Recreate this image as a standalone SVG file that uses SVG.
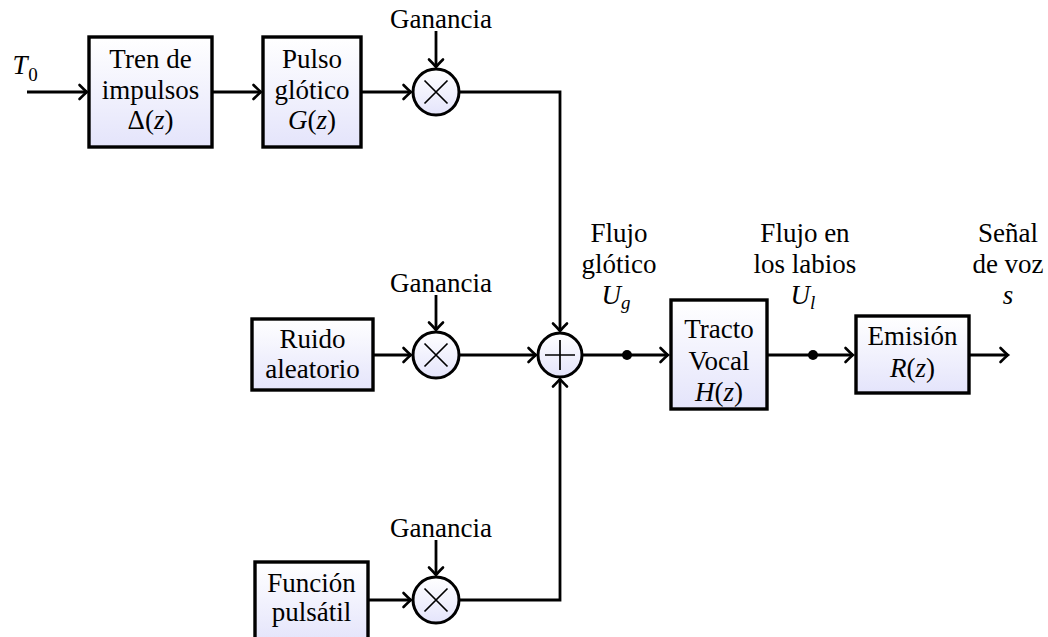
<svg xmlns="http://www.w3.org/2000/svg" width="1048" height="637" viewBox="0 0 1048 637">
  <defs>
    <linearGradient id="fillGrad" x1="0" y1="0" x2="0" y2="1">
      <stop offset="0" stop-color="#ffffff"/>
      <stop offset="1" stop-color="#e4e4fb"/>
    </linearGradient>
    <marker id="tip" markerUnits="userSpaceOnUse" markerWidth="16" markerHeight="18" viewBox="-9 -9 11 18" refX="0" refY="0" orient="auto">
      <path d="M-7.5,-7 Q-2,-1.5 0,0 Q-2,1.5 -7.5,7" fill="none" stroke="#000" stroke-width="2.6" stroke-linecap="round"/>
    </marker>
    <style>
      .blk { fill: url(#fillGrad); stroke: #000; stroke-width: 3.4; }
      .op { fill: url(#fillGrad); stroke: #000; stroke-width: 3; }
      .sym { stroke: #000; stroke-width: 1.7; fill: none; }
      .wire { fill: none; stroke: #000; stroke-width: 2.8; }
      .arr { marker-end: url(#tip); }
      text { font-family: "Liberation Serif", "Times New Roman", serif; font-size: 27px; fill: #000; text-anchor: middle; }
      .m { font-style: italic; }
      .sub { font-size: 19px; }
    </style>
  </defs>

  <!-- connectors -->
  <g id="connectors">
    <line class="wire arr" x1="27" y1="92" x2="87" y2="92"/>
    <line class="wire arr" x1="212" y1="92" x2="261" y2="92"/>
    <line class="wire arr" x1="361" y1="92" x2="411" y2="92"/>
    <line class="wire arr" x1="436" y1="31" x2="436" y2="67"/>
    <polyline class="wire arr" points="459,92 560,92 560,331"/>

    <line class="wire arr" x1="373" y1="355" x2="411" y2="355"/>
    <line class="wire arr" x1="436" y1="295" x2="436" y2="330"/>
    <line class="wire arr" x1="459" y1="355" x2="536" y2="355"/>
    <polyline class="wire arr" points="459,600 560,600 560,379"/>
    <line class="wire arr" x1="368" y1="600" x2="411" y2="600"/>
    <line class="wire arr" x1="436" y1="540" x2="436" y2="575"/>

    <line class="wire arr" x1="582" y1="355" x2="668" y2="355"/>
    <line class="wire arr" x1="767" y1="355" x2="853" y2="355"/>
    <line class="wire arr" x1="969" y1="355" x2="1008" y2="355"/>
    <circle cx="627" cy="355" r="5" fill="#000"/>
    <circle cx="813" cy="355" r="5" fill="#000"/>
  </g>

  <!-- input label -->
  <g id="input-T0">
    <text x="20" y="74" class="m">T</text>
    <text x="33" y="81" class="sub">0</text>
  </g>

  <!-- voiced branch -->
  <g id="tren-impulsos">
    <rect class="blk" x="89" y="37" width="123" height="110"/>
    <text x="150.5" y="68">Tren de</text>
    <text x="150.5" y="99">impulsos</text>
    <text x="150.5" y="129">Δ(<tspan class="m">z</tspan>)</text>
  </g>
  <g id="pulso-glotico">
    <rect class="blk" x="263" y="37" width="98" height="110"/>
    <text x="312" y="68">Pulso</text>
    <text x="312" y="99">glótico</text>
    <text x="312" y="129"><tspan class="m">G</tspan>(<tspan class="m">z</tspan>)</text>
  </g>
  <g id="mult-top">
    <circle class="op" cx="436" cy="92" r="23"/>
    <path class="sym" d="M424.5,80.5 L447.5,103.5 M447.5,80.5 L424.5,103.5"/>
    <text x="441" y="28">Ganancia</text>
  </g>

  <!-- noise branch -->
  <g id="ruido">
    <rect class="blk" x="252" y="319" width="121" height="71"/>
    <text x="312.5" y="348">Ruido</text>
    <text x="312.5" y="378">aleatorio</text>
  </g>
  <g id="mult-mid">
    <circle class="op" cx="436" cy="355" r="23"/>
    <path class="sym" d="M424.5,343.5 L447.5,366.5 M447.5,343.5 L424.5,366.5"/>
    <text x="441" y="292">Ganancia</text>
  </g>

  <!-- pulsatile branch -->
  <g id="funcion-pulsatil">
    <rect class="blk" x="255" y="562" width="113" height="80"/>
    <text x="311.5" y="592">Función</text>
    <text x="311.5" y="621">pulsátil</text>
  </g>
  <g id="mult-bot">
    <circle class="op" cx="436" cy="600" r="23"/>
    <path class="sym" d="M424.5,588.5 L447.5,611.5 M447.5,588.5 L424.5,611.5"/>
    <text x="441" y="537">Ganancia</text>
  </g>

  <!-- summation -->
  <g id="suma">
    <circle class="op" cx="560" cy="355" r="22"/>
    <path class="sym" d="M545,355 L575,355 M560,340 L560,370"/>
  </g>

  <!-- vocal tract and radiation -->
  <g id="label-ug">
    <text x="619" y="242">Flujo</text>
    <text x="619" y="273">glótico</text>
    <text x="616" y="304"><tspan class="m">U</tspan><tspan class="m sub" dy="5">g</tspan></text>
  </g>
  <g id="tracto-vocal">
    <rect class="blk" x="671" y="300" width="96" height="109"/>
    <text x="719" y="338">Tracto</text>
    <text x="719" y="370">Vocal</text>
    <text x="719" y="401"><tspan class="m">H</tspan>(<tspan class="m">z</tspan>)</text>
  </g>
  <g id="label-ul">
    <text x="805" y="242">Flujo en</text>
    <text x="805" y="273">los labios</text>
    <text x="803" y="304"><tspan class="m">U</tspan><tspan class="m sub" dy="5">l</tspan></text>
  </g>
  <g id="emision">
    <rect class="blk" x="856" y="316" width="113" height="77"/>
    <text x="912.5" y="345">Emisión</text>
    <text x="912.5" y="377"><tspan class="m">R</tspan>(<tspan class="m">z</tspan>)</text>
  </g>
  <g id="label-s">
    <text x="1008" y="242">Señal</text>
    <text x="1008" y="273">de voz</text>
    <text x="1008" y="304" class="m">s</text>
  </g>
</svg>
